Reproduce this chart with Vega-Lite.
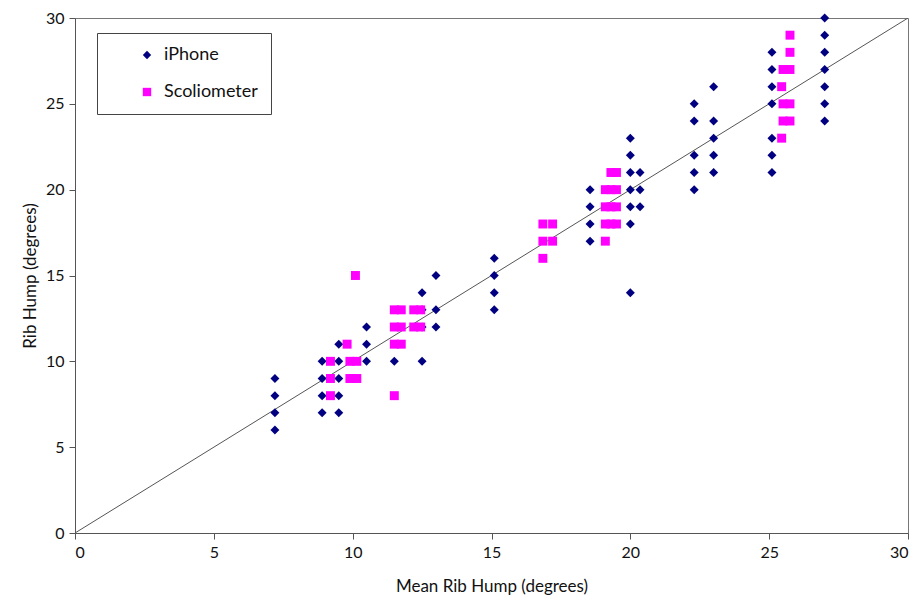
{
  "$schema": "https://vega.github.io/schema/vega-lite/v6.json",
  "autosize": {"type": "none"},
  "width": 833,
  "height": 515,
  "padding": {"left": 75, "top": 18, "right": 13, "bottom": 68},
  "background": "white",
  "config": {
    "font": "Lato",
    "view": {"stroke": "#777777", "strokeWidth": 1},
    "axis": {"grid": false, "domainColor": "#555555", "tickColor": "#555555", "labelColor": "#111111", "titleColor": "#111111", "labelFontSize": 16, "titleFontSize": 17, "titleFontWeight": "normal", "tickSize": 6, "labelPadding": 5, "labelFont": "Lato", "titleFont": "Lato"}
  },
  "layer": [
    {
      "data": {"values": [{"x": 0, "y": 0}, {"x": 30, "y": 30}]},
      "mark": {"type": "line", "color": "#555555", "strokeWidth": 1, "clip": true},
      "encoding": {
        "x": {"field": "x", "type": "quantitative", "scale": {"domain": [0, 30]}},
        "y": {"field": "y", "type": "quantitative", "scale": {"domain": [0, 30]}}
      }
    },
    {
      "data": {"values": [
        {"x": 7.2, "y": 9, "series": "iPhone"}, {"x": 7.2, "y": 8, "series": "iPhone"}, {"x": 7.2, "y": 7, "series": "iPhone"}, {"x": 7.2, "y": 6, "series": "iPhone"},
        {"x": 8.9, "y": 10, "series": "iPhone"}, {"x": 8.9, "y": 9, "series": "iPhone"}, {"x": 8.9, "y": 8, "series": "iPhone"}, {"x": 8.9, "y": 7, "series": "iPhone"},
        {"x": 9.5, "y": 11, "series": "iPhone"}, {"x": 9.5, "y": 10, "series": "iPhone"}, {"x": 9.5, "y": 9, "series": "iPhone"}, {"x": 9.5, "y": 8, "series": "iPhone"}, {"x": 9.5, "y": 7, "series": "iPhone"},
        {"x": 10.5, "y": 12, "series": "iPhone"}, {"x": 10.5, "y": 11, "series": "iPhone"}, {"x": 10.5, "y": 10, "series": "iPhone"},
        {"x": 11.5, "y": 10, "series": "iPhone"},
        {"x": 12.5, "y": 14, "series": "iPhone"}, {"x": 12.5, "y": 13, "series": "iPhone"}, {"x": 12.5, "y": 12, "series": "iPhone"}, {"x": 12.5, "y": 10, "series": "iPhone"},
        {"x": 13, "y": 15, "series": "iPhone"}, {"x": 13, "y": 13, "series": "iPhone"}, {"x": 13, "y": 12, "series": "iPhone"},
        {"x": 15.1, "y": 16, "series": "iPhone"}, {"x": 15.1, "y": 15, "series": "iPhone"}, {"x": 15.1, "y": 14, "series": "iPhone"}, {"x": 15.1, "y": 13, "series": "iPhone"},
        {"x": 18.55, "y": 20, "series": "iPhone"}, {"x": 18.55, "y": 19, "series": "iPhone"}, {"x": 18.55, "y": 18, "series": "iPhone"}, {"x": 18.55, "y": 17, "series": "iPhone"},
        {"x": 20, "y": 23, "series": "iPhone"}, {"x": 20, "y": 22, "series": "iPhone"}, {"x": 20, "y": 21, "series": "iPhone"}, {"x": 20, "y": 20, "series": "iPhone"}, {"x": 20, "y": 19, "series": "iPhone"}, {"x": 20, "y": 18, "series": "iPhone"}, {"x": 20, "y": 14, "series": "iPhone"},
        {"x": 20.35, "y": 21, "series": "iPhone"}, {"x": 20.35, "y": 20, "series": "iPhone"}, {"x": 20.35, "y": 19, "series": "iPhone"},
        {"x": 22.3, "y": 25, "series": "iPhone"}, {"x": 22.3, "y": 24, "series": "iPhone"}, {"x": 22.3, "y": 22, "series": "iPhone"}, {"x": 22.3, "y": 21, "series": "iPhone"}, {"x": 22.3, "y": 20, "series": "iPhone"},
        {"x": 23, "y": 26, "series": "iPhone"}, {"x": 23, "y": 24, "series": "iPhone"}, {"x": 23, "y": 23, "series": "iPhone"}, {"x": 23, "y": 22, "series": "iPhone"}, {"x": 23, "y": 21, "series": "iPhone"},
        {"x": 25.1, "y": 28, "series": "iPhone"}, {"x": 25.1, "y": 27, "series": "iPhone"}, {"x": 25.1, "y": 26, "series": "iPhone"}, {"x": 25.1, "y": 25, "series": "iPhone"}, {"x": 25.1, "y": 23, "series": "iPhone"}, {"x": 25.1, "y": 22, "series": "iPhone"}, {"x": 25.1, "y": 21, "series": "iPhone"},
        {"x": 27, "y": 30, "series": "iPhone"}, {"x": 27, "y": 29, "series": "iPhone"}, {"x": 27, "y": 28, "series": "iPhone"}, {"x": 27, "y": 27, "series": "iPhone"}, {"x": 27, "y": 26, "series": "iPhone"}, {"x": 27, "y": 25, "series": "iPhone"}, {"x": 27, "y": 24, "series": "iPhone"},
        {"x": 9.2, "y": 10, "series": "Scoliometer"}, {"x": 9.2, "y": 9, "series": "Scoliometer"}, {"x": 9.2, "y": 8, "series": "Scoliometer"},
        {"x": 9.8, "y": 11, "series": "Scoliometer"},
        {"x": 9.9, "y": 10, "series": "Scoliometer"}, {"x": 9.9, "y": 9, "series": "Scoliometer"},
        {"x": 10.15, "y": 10, "series": "Scoliometer"}, {"x": 10.15, "y": 9, "series": "Scoliometer"}, {"x": 10.1, "y": 15, "series": "Scoliometer"},
        {"x": 11.5, "y": 13, "series": "Scoliometer"}, {"x": 11.5, "y": 12, "series": "Scoliometer"}, {"x": 11.5, "y": 11, "series": "Scoliometer"}, {"x": 11.5, "y": 8, "series": "Scoliometer"},
        {"x": 11.75, "y": 13, "series": "Scoliometer"}, {"x": 11.75, "y": 12, "series": "Scoliometer"}, {"x": 11.75, "y": 11, "series": "Scoliometer"},
        {"x": 12.2, "y": 13, "series": "Scoliometer"}, {"x": 12.2, "y": 12, "series": "Scoliometer"},
        {"x": 12.45, "y": 13, "series": "Scoliometer"}, {"x": 12.45, "y": 12, "series": "Scoliometer"},
        {"x": 16.85, "y": 18, "series": "Scoliometer"}, {"x": 16.85, "y": 17, "series": "Scoliometer"}, {"x": 16.85, "y": 16, "series": "Scoliometer"},
        {"x": 17.2, "y": 18, "series": "Scoliometer"}, {"x": 17.2, "y": 17, "series": "Scoliometer"},
        {"x": 19.1, "y": 20, "series": "Scoliometer"}, {"x": 19.1, "y": 19, "series": "Scoliometer"}, {"x": 19.1, "y": 18, "series": "Scoliometer"}, {"x": 19.1, "y": 17, "series": "Scoliometer"},
        {"x": 19.3, "y": 21, "series": "Scoliometer"}, {"x": 19.3, "y": 20, "series": "Scoliometer"}, {"x": 19.3, "y": 19, "series": "Scoliometer"}, {"x": 19.3, "y": 18, "series": "Scoliometer"},
        {"x": 19.5, "y": 21, "series": "Scoliometer"}, {"x": 19.5, "y": 20, "series": "Scoliometer"}, {"x": 19.5, "y": 19, "series": "Scoliometer"}, {"x": 19.5, "y": 18, "series": "Scoliometer"},
        {"x": 25.45, "y": 26, "series": "Scoliometer"}, {"x": 25.45, "y": 23, "series": "Scoliometer"},
        {"x": 25.5, "y": 27, "series": "Scoliometer"}, {"x": 25.5, "y": 25, "series": "Scoliometer"}, {"x": 25.5, "y": 24, "series": "Scoliometer"},
        {"x": 25.75, "y": 29, "series": "Scoliometer"}, {"x": 25.75, "y": 28, "series": "Scoliometer"}, {"x": 25.75, "y": 27, "series": "Scoliometer"}, {"x": 25.75, "y": 25, "series": "Scoliometer"}, {"x": 25.75, "y": 24, "series": "Scoliometer"}
      ]},
      "mark": {"type": "point", "filled": true, "opacity": 1, "size": 80, "clip": false},
      "encoding": {
        "x": {"field": "x", "type": "quantitative", "scale": {"domain": [0, 30], "nice": false}, "axis": {"values": [0, 5, 10, 15, 20, 25, 30], "title": "Mean Rib Hump (degrees)", "titlePadding": 18}},
        "y": {"field": "y", "type": "quantitative", "scale": {"domain": [0, 30], "nice": false}, "axis": {"values": [0, 5, 10, 15, 20, 25, 30], "title": "Rib Hump (degrees)", "titlePadding": 6}},
        "color": {"field": "series", "type": "nominal", "scale": {"domain": ["iPhone", "Scoliometer"], "range": ["#000080", "#FF00FF"]}, "legend": {"title": null, "orient": "none", "legendX": 22, "legendY": 15, "strokeColor": "#444444", "fillColor": "white", "padding": 13, "symbolOffset": 28, "labelFontSize": 18, "labelColor": "#111111", "labelOffset": 8, "rowPadding": 19, "symbolSize": 70}},
        "shape": {"field": "series", "type": "nominal", "scale": {"domain": ["iPhone", "Scoliometer"], "range": ["diamond", "square"]}, "legend": null}
      }
    }
  ]
}
